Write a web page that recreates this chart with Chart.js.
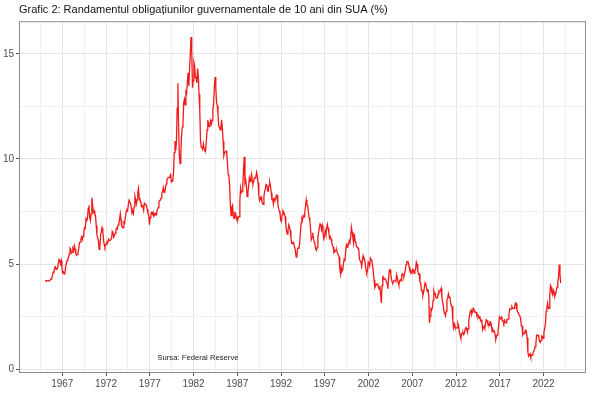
<!DOCTYPE html>
<html>
<head>
<meta charset="utf-8">
<script src="https://cdn.jsdelivr.net/npm/chart.js@4"></script>
<style>
  body { margin: 0; background: #fff; }
  canvas { display: block; }
</style>
</head>
<body>
<canvas id="chart" width="600" height="399"></canvas>
<script>
// monthly 10-year yields (%), Jan 1965 .. Dec 2023
const startYear = 1965;

const y1960s = [
  4.19, 4.21, 4.21, 4.20, 4.21, 4.21, 4.20, 4.25, 4.29, 4.35, 4.45, 4.62,
  4.61, 4.83, 4.87, 4.75, 4.78, 4.81, 5.02, 5.22, 5.18, 5.01, 5.16, 4.84,
  4.58, 4.63, 4.54, 4.59, 4.85, 5.02, 5.16, 5.28, 5.30, 5.48, 5.75, 5.70,
  5.53, 5.56, 5.74, 5.64, 5.87, 5.72, 5.50, 5.42, 5.46, 5.58, 5.70, 6.03,
  6.04, 6.19, 6.30, 6.17, 6.32, 6.57, 6.72, 6.69, 7.16, 7.10, 7.14, 7.65
];
const y1970s = [
  7.79, 7.24, 7.07, 7.39, 8.15, 7.84, 7.46, 7.53, 7.39, 7.33, 6.84, 6.39,
  6.24, 6.11, 5.70, 5.83, 6.39, 6.52, 6.73, 6.58, 6.14, 5.93, 5.81, 5.93,
  5.95, 6.08, 6.07, 6.19, 6.13, 6.11, 6.11, 6.21, 6.55, 6.48, 6.28, 6.36,
  6.46, 6.64, 6.71, 6.67, 6.85, 6.90, 7.13, 7.40, 7.09, 6.79, 6.73, 6.74,
  6.99, 6.96, 7.21, 7.51, 7.58, 7.54, 7.81, 8.04, 8.04, 7.90, 7.68, 7.43,
  7.50, 7.39, 7.73, 8.23, 8.06, 7.86, 8.06, 8.40, 8.60, 8.14, 8.05, 8.00,
  7.74, 7.79, 7.73, 7.56, 7.90, 7.86, 7.83, 7.77, 7.59, 7.41, 7.29, 6.87,
  7.21, 7.39, 7.46, 7.37, 7.46, 7.28, 7.33, 7.40, 7.34, 7.52, 7.58, 7.69,
  7.96, 8.03, 8.04, 8.15, 8.35, 8.46, 8.64, 8.41, 8.42, 8.64, 8.81, 9.01,
  9.10, 9.10, 9.12, 9.18, 9.25, 8.91, 8.95, 9.03, 9.33, 10.30, 10.85, 10.39
];
const y1980s = [
  10.80, 12.41, 13.60, 11.47, 10.18, 9.78, 10.25, 11.10, 11.51, 11.75, 12.68, 12.84,
  12.57, 13.19, 13.12, 13.68, 14.10, 13.47, 14.28, 14.94, 15.80, 15.15, 13.39, 13.72,
  14.59, 14.43, 13.86, 13.87, 13.62, 14.30, 13.95, 13.06, 12.34, 10.91, 10.55, 10.54,
  10.46, 10.72, 10.51, 10.40, 10.38, 10.85, 11.38, 11.85, 11.65, 11.54, 11.69, 11.83,
  11.67, 11.84, 12.32, 12.63, 13.41, 13.90, 13.36, 12.72, 12.52, 12.16, 11.57, 11.50,
  11.38, 11.51, 11.86, 11.43, 10.85, 10.16, 10.31, 10.33, 10.37, 10.24, 9.78, 9.26,
  9.19, 8.70, 7.78, 7.30, 7.71, 7.80, 7.30, 7.17, 7.45, 7.43, 7.25, 7.11,
  7.08, 7.25, 7.25, 8.02, 8.61, 8.40, 8.45, 8.76, 9.50, 10.10, 8.86, 8.99,
  8.67, 8.21, 8.37, 8.72, 9.09, 8.92, 9.06, 9.26, 8.98, 8.80, 8.96, 9.11,
  9.09, 9.17, 9.36, 9.18, 8.86, 8.28, 8.02, 8.11, 8.19, 8.01, 7.87, 7.84
];
const y1990s = [
  8.21, 8.47, 8.59, 8.79, 8.76, 8.48, 8.47, 8.75, 8.89, 8.72, 8.39, 8.08,
  8.09, 7.85, 8.11, 8.04, 8.07, 8.28, 8.27, 7.90, 7.65, 7.53, 7.42, 7.09,
  7.03, 7.34, 7.54, 7.48, 7.39, 7.26, 6.84, 6.59, 6.42, 6.59, 6.87, 6.77,
  6.60, 6.26, 5.98, 5.97, 6.04, 5.96, 5.81, 5.68, 5.36, 5.33, 5.72, 5.77,
  5.75, 5.97, 6.48, 6.97, 7.18, 7.10, 7.30, 7.24, 7.46, 7.74, 8.05, 7.81,
  7.78, 7.47, 7.20, 7.06, 6.63, 6.17, 6.28, 6.49, 6.20, 6.04, 5.93, 5.71,
  5.65, 5.81, 6.27, 6.51, 6.74, 6.91, 6.87, 6.64, 6.83, 6.53, 6.20, 6.30,
  6.58, 6.42, 6.69, 6.89, 6.71, 6.49, 6.22, 6.30, 6.21, 6.03, 5.88, 5.81,
  5.54, 5.57, 5.65, 5.64, 5.65, 5.50, 5.46, 5.34, 4.81, 4.53, 4.83, 4.65,
  4.72, 5.00, 5.23, 5.18, 5.54, 5.90, 5.79, 5.94, 5.92, 6.11, 6.03, 6.28
];
const y2000s = [
  6.75, 6.52, 6.26, 5.99, 6.44, 6.10, 6.05, 5.83, 5.80, 5.74, 5.72, 5.24,
  5.16, 5.10, 4.89, 5.14, 5.39, 5.28, 5.24, 4.97, 4.73, 4.57, 4.65, 5.09,
  5.04, 4.91, 5.28, 5.21, 5.16, 4.93, 4.65, 4.26, 3.87, 3.94, 4.05, 4.03,
  4.05, 3.90, 3.81, 3.96, 3.57, 3.15, 3.98, 4.45, 4.27, 4.29, 4.30, 4.27,
  4.15, 4.08, 3.83, 4.35, 4.72, 4.73, 4.50, 4.28, 4.13, 4.10, 4.19, 4.23,
  4.22, 4.17, 4.50, 4.34, 4.14, 4.00, 4.18, 4.26, 4.20, 4.46, 4.54, 4.47,
  4.42, 4.57, 4.72, 4.99, 5.11, 5.11, 5.09, 4.88, 4.72, 4.73, 4.60, 4.56,
  4.76, 4.72, 4.56, 4.69, 4.75, 5.10, 5.00, 4.67, 4.52, 4.53, 4.15, 4.10,
  3.74, 3.74, 3.51, 3.68, 3.88, 4.10, 4.01, 3.89, 3.69, 3.81, 3.53, 2.20,
  2.52, 2.87, 2.82, 2.93, 3.29, 3.72, 3.56, 3.59, 3.40, 3.39, 3.40, 3.59
];
const y2010s = [
  3.73, 3.69, 3.73, 3.85, 3.42, 3.20, 3.01, 2.70, 2.65, 2.54, 2.76, 3.29,
  3.39, 3.58, 3.41, 3.46, 3.17, 3.00, 3.00, 2.30, 1.98, 2.15, 2.01, 1.98,
  1.97, 1.97, 2.17, 2.05, 1.80, 1.62, 1.47, 1.68, 1.72, 1.75, 1.65, 1.72,
  1.91, 1.98, 1.96, 1.76, 1.93, 2.30, 2.58, 2.74, 2.81, 2.62, 2.72, 2.90,
  2.86, 2.71, 2.72, 2.71, 2.56, 2.60, 2.54, 2.42, 2.53, 2.30, 2.33, 2.21,
  1.88, 1.98, 2.04, 1.94, 2.20, 2.36, 2.32, 2.17, 2.17, 2.07, 2.26, 2.24,
  2.09, 1.78, 1.89, 1.81, 1.81, 1.64, 1.42, 1.56, 1.63, 1.76, 2.14, 2.49,
  2.43, 2.42, 2.48, 2.30, 2.30, 2.19, 2.32, 2.21, 2.20, 2.36, 2.35, 2.40,
  2.58, 2.86, 2.84, 2.87, 2.98, 2.91, 2.89, 2.89, 3.00, 3.15, 3.12, 2.83,
  2.71, 2.68, 2.57, 2.53, 2.40, 2.07, 2.06, 1.63, 1.70, 1.71, 1.81, 1.86
];
const y2020s = [
  1.76, 1.50, 0.80, 0.62, 0.67, 0.73, 0.58, 0.65, 0.68, 0.79, 0.87, 0.93,
  1.08, 1.26, 1.61, 1.64, 1.62, 1.52, 1.32, 1.28, 1.37, 1.58, 1.56, 1.47,
  1.76, 1.93, 2.13, 2.75, 2.90, 3.14, 2.90, 2.90, 3.52, 3.98, 3.89, 3.62,
  3.53, 3.75, 3.66, 3.46, 3.57, 3.75, 3.90, 4.17, 4.38, 4.98, 4.50, 4.10
];

const xTickLabels = [1967, 1972, 1977, 1982, 1987, 1992, 1997, 2002, 2007, 2012, 2017, 2022];
const yTickLabels = [0, 5, 10, 15];
const sourceText = 'Sursa: Federal Reserve';
const titleText = 'Grafic 2: Randamentul obligațiunilor guvernamentale de 10 ani din SUA (%)';

const yields = [].concat(y1960s, y1970s, y1980s, y1990s, y2000s, y2010s, y2020s);
const points = yields.map((v, i) => ({ x: startYear + (i + 0.5) / 12, y: v }));

const font = "'Liberation Sans', Arial, sans-serif";

// vertical major + minor grid positions
const xGrid = [];
xTickLabels.forEach(t => { xGrid.push(t - 2.5, t); });
xGrid.push(2024.5);
const yGrid = [0, 2.5, 5, 7.5, 10, 12.5, 15];

// panel border and source note
const extras = {
  id: 'extras',
  afterDatasetsDraw(chart) {
    const { ctx, chartArea: a, scales } = chart;
    ctx.save();
    ctx.fillStyle = '#222';
    ctx.font = '7.7px ' + font;
    ctx.textAlign = 'center';
    ctx.textBaseline = 'middle';
    ctx.fillText(sourceText, scales.x.getPixelForValue(1982.5), scales.y.getPixelForValue(0.52));
    ctx.strokeStyle = '#8c8c8c';
    ctx.lineWidth = 1;
    ctx.strokeRect(a.left + 0.5, a.top + 0.5, a.right - a.left - 1, a.bottom - a.top - 1);
    ctx.restore();
  }
};

new Chart(document.getElementById('chart'), {
  type: 'line',
  data: {
    datasets: [{
      data: points,
      borderColor: '#f01a1a',
      borderWidth: 1.3,
      pointRadius: 0,
      tension: 0
    }]
  },
  options: {
    responsive: false,
    animation: false,
    devicePixelRatio: 1,
    layout: { padding: { left: 0, right: 14, top: 0, bottom: 0 } },
    plugins: {
      legend: { display: false },
      tooltip: { enabled: false },
      title: {
        display: true,
        text: titleText,
        align: 'start',
        fullSize: false,
        color: '#111',
        font: { family: font, size: 11, weight: 'normal' },
        padding: { top: 3, bottom: 5 }
      }
    },
    scales: {
      x: {
        type: 'linear',
        min: 1962.05,
        max: 2026.85,
        afterBuildTicks: s => { s.ticks = xGrid.map(v => ({ value: v })); },
        afterFit: s => { s.height = 26; },
        grid: {
          color: c => xTickLabels.includes(c.tick.value) ? '#e5e5e5' : '#f1f1f1',
          tickColor: c => xTickLabels.includes(c.tick.value) ? '#555' : 'rgba(0,0,0,0)',
          tickLength: 3
        },
        border: { display: false },
        ticks: {
          autoSkip: false,
          maxRotation: 0,
          padding: 2,
          color: '#4d4d4d',
          font: { family: font, size: 10 },
          callback: v => xTickLabels.includes(v) ? String(v) : ''
        }
      },
      y: {
        min: -0.18,
        max: 16.55,
        afterBuildTicks: s => { s.ticks = yGrid.map(v => ({ value: v })); },
        afterFit: s => { s.width = 19; },
        grid: {
          color: c => yTickLabels.includes(c.tick.value) ? '#e5e5e5' : '#f1f1f1',
          tickColor: c => yTickLabels.includes(c.tick.value) ? '#555' : 'rgba(0,0,0,0)',
          tickLength: 3
        },
        border: { display: false },
        ticks: {
          padding: 2,
          color: '#4d4d4d',
          font: { family: font, size: 10 },
          callback: v => yTickLabels.includes(v) ? String(v) : ''
        }
      }
    }
  },
  plugins: [extras]
});
</script>
</body>
</html>
